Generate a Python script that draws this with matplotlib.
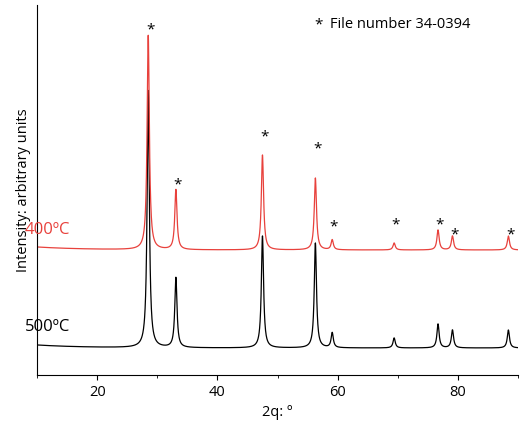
import numpy as np
import matplotlib.pyplot as plt

plt.rcParams['font.family'] = ['Open Sans', 'DejaVu Sans']

# peak positions (2theta) and heights
peaks = [28.5, 33.1, 47.5, 56.3, 59.1, 69.4, 76.7, 79.1, 88.4]
h_500 = [258, 70, 112, 105, 15, 10, 24, 18, 18]
h_400 = [215, 60, 95, 72, 10, 7, 20, 14, 14]
base_500 = 27
base_400 = 125
star_y = [345, 190, 238, 226, 148, 150, 150, 140, 140]

x = np.linspace(10, 90, 3000)

def pattern(heights, base):
    y = np.full_like(x, base, dtype=float)
    y += 3 * np.exp(-(x - 10) / 8)
    for p, h in zip(peaks, heights):
        y += h / (1 + ((x - p) / 0.22) ** 2)
    return y

fig = plt.figure(figsize=(5.2, 4.28), dpi=100)
ax = fig.add_axes([37 / 520, 53 / 428, 481 / 520, 370 / 428])
ax.plot(x, pattern(h_500, base_500), color='black', lw=0.9)
ax.plot(x, pattern(h_400, base_400), color='#e8413c', lw=0.9)

for p, s in zip(peaks, star_y):
    ax.text(p + 0.3, s, '*', ha='center', va='center', fontsize=11)

ax.text(8, 145, '400ºC', color='#e8413c', fontsize=12, ha='left', va='center')
ax.text(8, 48, '500ºC', color='black', fontsize=12, ha='left', va='center')
ax.text(56.8, 350, '*', fontsize=11, ha='center', va='center')
ax.text(58.8, 350, 'File number 34-0394', fontsize=10.5, ha='left', va='center')

ax.set_xlim(10, 90)
ax.set_ylim(0, 370)
ax.set_xticks([20, 40, 60, 80])
ax.set_xticks([10, 30, 50, 70, 90], minor=True)
ax.tick_params(axis='x', direction='out', labelsize=10.5)
ax.set_yticks([])
ax.spines['top'].set_visible(False)
ax.spines['right'].set_visible(False)
ax.set_xlabel('2q: º', fontsize=10.5)
ax.set_ylabel('Intensity: arbitrary units', fontsize=10.5)

fig.savefig('out.png', dpi=100)
